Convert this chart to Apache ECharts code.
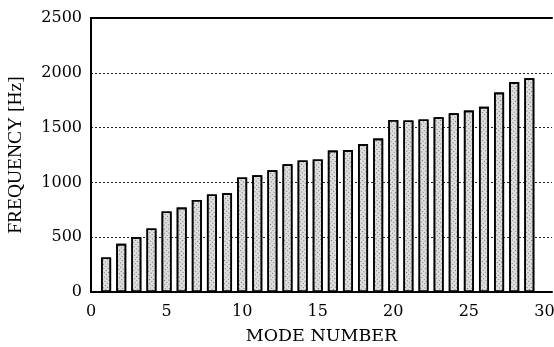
<!DOCTYPE html>
<html>
<head>
<meta charset="utf-8">
<script src="https://cdn.jsdelivr.net/npm/echarts@6/dist/echarts.min.js"></script>
<style>
    html, body { margin: 0; padding: 0; background: #fff; }
    #chart { width: 554px; height: 347px; }
</style>
</head>
<body>
<div id="chart"></div>
<script>
// mode numbers 1..29
const modes = [1, 2, 3, 4, 5, 6, 7, 8, 9, 10, 11, 12, 13, 14, 15, 16, 17, 18, 19, 20, 21, 22, 23, 24, 25, 26, 27, 28, 29];
// frequency of each mode [Hz]
const freqs = [315, 440, 500, 580, 735, 770, 840, 890, 900, 1045, 1065, 1110, 1165, 1200, 1210, 1290, 1295, 1350, 1400, 1570, 1565, 1575, 1595, 1630, 1655, 1690, 1820, 1915, 1950];
const xTicks = [0, 5, 10, 15, 20, 25, 30];
const yTicks = [0, 500, 1000, 1500, 2000, 2500];

// scanned figure: wide serif digits
const labelFont = '"DejaVu Serif", "Liberation Serif", serif';
const nameFont = '"Liberation Serif", "DejaVu Serif", serif';

const chartDom = document.getElementById('chart');
const myChart = echarts.init(chartDom);

const barData = modes.map((m, i) => [m, freqs[i]]);

const option = {
    animation: false,
    backgroundColor: '#fff',
    aria: { enabled: true, decal: { show: true } },
    grid: {
        left: 91,
        right: 2,
        top: 18,
        bottom: 55,
        outerBoundsMode: 'none'
    },
    xAxis: [
        {
            type: 'value',
            min: 0,
            max: 30.5,
            interval: 5,
            name: 'MODE NUMBER',
            nameLocation: 'middle',
            nameGap: 35,
            nameTextStyle: { fontFamily: labelFont, fontSize: 17.5, color: '#000' },
            axisLine: { show: true, onZero: false, lineStyle: { color: '#000', width: 2 } },
            axisTick: { show: false },
            splitLine: { show: false },
            axisLabel: {
                fontFamily: labelFont,
                fontSize: 16,
                color: '#000',
                margin: 12,
                showMaxLabel: false,
                formatter: v => (xTicks.indexOf(v) >= 0 ? String(v) : '')
            }
        },
        {
            // top frame line
            type: 'value',
            position: 'top',
            min: 0,
            max: 30.5,
            axisLine: { show: true, onZero: false, lineStyle: { color: '#000', width: 2 } },
            axisTick: { show: false },
            axisLabel: { show: false },
            splitLine: { show: false }
        }
    ],
    yAxis: {
        type: 'value',
        min: 0,
        max: 2500,
        interval: 500,
        name: 'FREQUENCY [Hz]',
        nameLocation: 'middle',
        nameGap: 65,
        nameTextStyle: { fontFamily: nameFont, fontSize: 19.5, color: '#000' },
        axisLine: { show: true, lineStyle: { color: '#000', width: 2 } },
        axisTick: { show: false },
        axisLabel: {
            fontFamily: labelFont,
            fontSize: 16,
            color: '#000',
            margin: 9,
            formatter: v => (yTicks.indexOf(v) >= 0 ? String(v) : '')
        },
        splitLine: {
            show: true,
            showMinLine: false,
            showMaxLine: false,
            lineStyle: { color: '#222', type: [2, 2], width: 1 }
        }
    },
    series: [
        {
            type: 'bar',
            xAxisIndex: 0,
            data: barData,
            barWidth: 10,
            itemStyle: {
                color: '#dedede',
                borderColor: '#000',
                borderWidth: 1.6,
                decal: {
                    symbol: 'rect',
                    symbolSize: 1,
                    color: 'rgba(0,0,0,0.5)',
                    dashArrayX: [[1, 2]],
                    dashArrayY: [1, 2],
                    rotation: 0.7
                }
            }
        }
    ]
};

myChart.setOption(option);
</script>
</body>
</html>
